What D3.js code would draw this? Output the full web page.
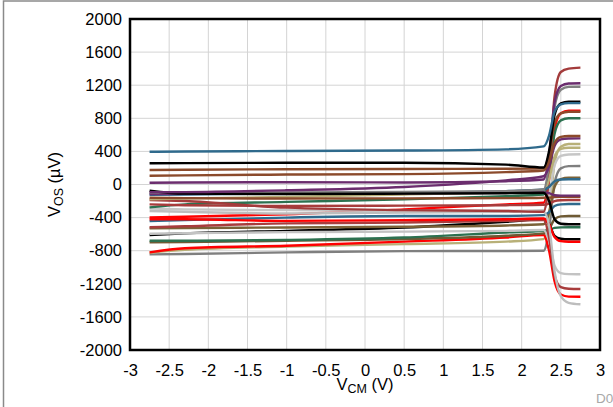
<!DOCTYPE html>
<html>
<head>
<meta charset="utf-8">
<script src="https://cdn.jsdelivr.net/npm/d3@7"></script>
<style>
  body { margin: 0; background: #fff; }
  text { font-family: "Liberation Sans", Arial, sans-serif; }
</style>
</head>
<body>
<svg id="chart"></svg>
<script>
// Chart size
const width = 613;
const height = 407;

// Common-mode voltage sample points (V)
const vcm = [-2.75, -2.3, -1.0, 0.5, 1.8, 2.28, 2.35, 2.42, 2.5, 2.6, 2.75];

// Offset voltage per unit (uV)
const darkRed1 = [-187, -200, -280, -310, -320, -330, 105, 1064, 1360, 1400, 1412];
const darkRed2 = [-517, -505, -470, -460, -440, -430, -640, -1100, -1240, -1260, -1263];
const darkRed3 = [-240, -250, -260, -255, -250, -245, -230, -200, -190, -187, -187];
const purple1 = [22, 24, 28, 25, 40, 60, 350, 990, 1190, 1220, 1223];
const purple2 = [-94, -92, -70, -30, 50, 100, 215, 465, 545, 556, 558];
const purple3 = [-115, -112, -110, -105, -100, -95, -105, -130, -135, -135, -135];
const gray1 = [-99, -98, -95, -90, -80, -60, 250, 935, 1145, 1180, 1182];
const gray2 = [-844, -840, -820, -805, -804, -800, -540, 20, 195, 222, 224];
const lightGray1 = [-290, -300, -310, -320, -320, -310, -140, 230, 345, 363, 365];
const lightGray2 = [-595, -590, -575, -570, -560, -550, -685, -980, -1070, -1083, -1085];
const lightGray3 = [-320, -330, -350, -340, -330, -330, -500, -1050, -1350, -1430, -1448];
const black1 = [256, 258, 262, 262, 240, 205, 405, 842, 980, 1000, 1001];
const black2 = [-75, -110, -115, -110, -105, -100, -200, -420, -475, -481, -481];
const black3 = [-610, -590, -560, -520, -450, -420, -480, -620, -655, -662, -662];
const blue1 = [396, 398, 405, 410, 425, 460, 590, 880, 968, 983, 983];
const blue2 = [-125, -120, -110, -100, -80, -60, -30, 40, 60, 63, 63];
const blue3 = [-441, -430, -400, -380, -380, -370, -335, -260, -240, -236, -236];
const brown1 = [175, 178, 185, 188, 190, 195, 365, 743, 860, 880, 880];
const brown2 = [106, 110, 120, 125, 150, 170, 275, 503, 575, 586, 586];
const brown3 = [-160, -165, -170, -168, -165, -160, -158, -152, -150, -150, -150];
const olive1 = [-700, -695, -680, -660, -620, -590, -540, -420, -385, -381, -381];
const olive2 = [-530, -525, -520, -510, -495, -480, -340, -30, 65, 82, 82];
const khaki1 = [-180, -170, -150, -120, -90, -70, 60, 340, 430, 445, 445];
const khaki2 = [-824, -790, -750, -720, -690, -660, -370, 260, 455, 489, 489];
const green1 = [-276, -240, -210, -180, -140, -120, 110, 615, 775, 800, 800];
const green2 = [-679, -680, -670, -640, -580, -560, -550, -525, -518, -517, -517];
const red1 = [-397, -390, -360, -300, -240, -220, 60, 670, 860, 892, 892];
const red2 = [-420, -420, -440, -430, -420, -410, -480, -635, -685, -691, -691];
const red3 = [-820, -770, -740, -690, -640, -610, -800, -1170, -1330, -1355, -1356];

// Tick labels
const xTicks = [-3, -2.5, -2, -1.5, -1, -0.5, 0, 0.5, 1, 1.5, 2, 2.5, 3];
const yTicks = [-2000, -1600, -1200, -800, -400, 0, 400, 800, 1200, 1600, 2000];

// Series list (drawing order) with line colours
const series = [
    { values: gray2, color: "#7f7f7f" },
    { values: khaki2, color: "#b8b078" },
    { values: red3, color: "#ff0000" },
    { values: olive1, color: "#6e5a34" },
    { values: green2, color: "#2c7150" },
    { values: black3, color: "#000000" },
    { values: lightGray2, color: "#c3c3c3" },
    { values: olive2, color: "#7a6238" },
    { values: darkRed2, color: "#a83c3c" },
    { values: blue3, color: "#2f6a8c" },
    { values: red2, color: "#ff0000" },
    { values: red1, color: "#ff0000" },
    { values: lightGray3, color: "#bdbdbd" },
    { values: lightGray1, color: "#c6c6c6" },
    { values: green1, color: "#2c7150" },
    { values: darkRed3, color: "#a83c3c" },
    { values: darkRed1, color: "#a33b3b" },
    { values: khaki1, color: "#b8b078" },
    { values: brown3, color: "#8b4a2b" },
    { values: blue2, color: "#2f6a8c" },
    { values: purple3, color: "#6b2d6e" },
    { values: gray1, color: "#808080" },
    { values: black2, color: "#000000" },
    { values: purple2, color: "#6b2d6e" },
    { values: purple1, color: "#6b2d6e" },
    { values: brown2, color: "#8b4a2b" },
    { values: brown1, color: "#8b4a2b" },
    { values: black1, color: "#000000" },
    { values: blue1, color: "#2f6a8c" }
];

const margin = { left: 130, right: 13, top: 19, bottom: 57 };

const svg = d3.select("#chart")
    .attr("width", width)
    .attr("height", height);

// Outer frame (runs off the right and bottom of the picture)
svg.append("rect")
    .attr("x", 3.5)
    .attr("y", 1)
    .attr("width", width + 10)
    .attr("height", height + 10)
    .attr("fill", "none")
    .attr("stroke", "#8a8a8a")
    .attr("stroke-width", 1.5);

const x = d3.scaleLinear()
    .domain([-3, 3])
    .range([margin.left, width - margin.right]);

const y = d3.scaleLinear()
    .domain([-2000, 2000])
    .range([height - margin.bottom, margin.top]);

// Grid
svg.append("g")
    .selectAll("line.vgrid")
    .data(xTicks)
    .join("line")
    .attr("x1", d => x(d)).attr("x2", d => x(d))
    .attr("y1", y(-2000)).attr("y2", y(2000))
    .attr("stroke", "#d4d4d4")
    .attr("stroke-width", 1);

svg.append("g")
    .selectAll("line.hgrid")
    .data(yTicks)
    .join("line")
    .attr("x1", x(-3)).attr("x2", x(3))
    .attr("y1", d => y(d)).attr("y2", d => y(d))
    .attr("stroke", "#d4d4d4")
    .attr("stroke-width", 1);

// Curves
const line = d3.line()
    .x((d, i) => x(vcm[i]))
    .y(d => y(d))
    .curve(d3.curveMonotoneX);

svg.append("g")
    .selectAll("path")
    .data(series)
    .join("path")
    .attr("d", d => line(d.values))
    .attr("fill", "none")
    .attr("stroke", d => d.color)
    .attr("stroke-width", 2.4)
    .attr("stroke-linejoin", "round");

// Plot frame
svg.append("rect")
    .attr("x", x(-3))
    .attr("y", y(2000))
    .attr("width", x(3) - x(-3))
    .attr("height", y(-2000) - y(2000))
    .attr("fill", "none")
    .attr("stroke", "#000")
    .attr("stroke-width", 2.5);

// Axes
const xAxis = svg.append("g")
    .attr("transform", `translate(0,${y(-2000)})`)
    .call(d3.axisBottom(x).tickValues(xTicks).tickSize(0).tickPadding(14).tickFormat(d => String(d)));

const yAxis = svg.append("g")
    .attr("transform", `translate(${x(-3)},0)`)
    .call(d3.axisLeft(y).tickValues(yTicks).tickSize(0).tickPadding(8).tickFormat(d => String(d)));

[xAxis, yAxis].forEach(a => {
    a.select(".domain").remove();
    a.selectAll("text")
        .attr("font-family", "Liberation Sans, Arial, sans-serif")
        .attr("font-size", 16.5)
        .attr("fill", "#000");
});

// Axis titles
const xTitle = svg.append("text")
    .attr("x", (x(-3) + x(3)) / 2)
    .attr("y", 389.5)
    .attr("text-anchor", "middle")
    .attr("font-size", 16.5);
xTitle.append("tspan").text("V");
xTitle.append("tspan").attr("font-size", 12.5).attr("dy", 3).text("CM");
xTitle.append("tspan").attr("dy", -3).text(" (V)");

const yTitle = svg.append("text")
    .attr("transform", `translate(60,${(y(2000) + y(-2000)) / 2}) rotate(-90)`)
    .attr("text-anchor", "middle")
    .attr("font-size", 16.5);
yTitle.append("tspan").text("V");
yTitle.append("tspan").attr("font-size", 12.5).attr("dy", 3).text("OS");
yTitle.append("tspan").attr("dy", -3).text(" (µV)");

// Figure code, cut by the picture edge as in the reference
svg.append("text")
    .attr("x", 596)
    .attr("y", 403)
    .attr("font-size", 13.5)
    .attr("fill", "#a8a8a8")
    .text("D001");
</script>
</body>
</html>
